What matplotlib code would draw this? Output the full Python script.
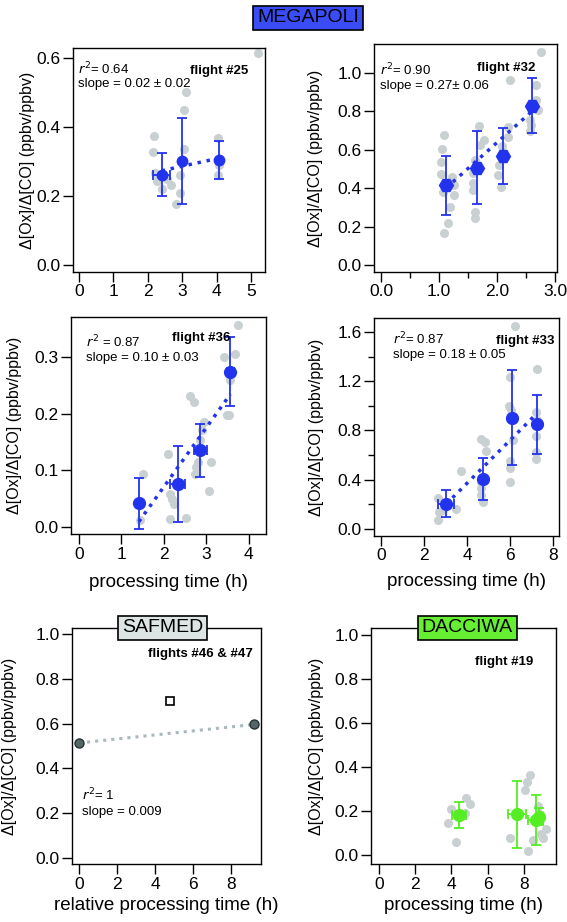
import matplotlib
matplotlib.use("Agg")
import matplotlib.pyplot as plt
from matplotlib.ticker import MultipleLocator

plt.rcParams['font.family'] = ['Liberation Sans', 'DejaVu Sans']

BLUE = '#2233ee'
GREEN = '#55ee22'
GREY = '#c9d0d1'

# flight #25
f25_gx = [2.18, 2.16, 2.21, 2.26, 2.42, 2.67, 2.82, 2.94, 2.94, 3.05, 3.11, 3.05, 4.05, 4.05, 4.07, 5.19, 2.55]
f25_gy = [0.373, 0.326, 0.267, 0.243, 0.219, 0.231, 0.178, 0.209, 0.26, 0.336, 0.502, 0.449, 0.367, 0.26, 0.29, 0.614, 0.25]
f25_x = [2.4, 3.0, 4.07]
f25_y = [0.262, 0.302, 0.305]
f25_yerr = [0.062, 0.124, 0.055]
f25_xerr = [0.25, 0.0, 0.0]
f25_fit = (0.022, 0.22)

# flight #32
f32_gx = [1.09, 1.05, 1.03, 1.03, 1.07, 1.22, 1.25, 1.26, 1.19, 1.15, 1.09, 1.69, 1.78, 1.62, 1.59, 1.59,
          1.58, 1.61, 1.62, 1.71, 2.02, 2.06, 2.04, 2.08, 2.18, 2.19, 2.22, 2.56, 2.58, 2.66, 2.70, 2.67, 2.76, 2.56]
f32_gy = [0.678, 0.603, 0.534, 0.473, 0.381, 0.459, 0.416, 0.364, 0.30, 0.22, 0.168, 0.724, 0.653, 0.546, 0.477, 0.425,
          0.393, 0.274, 0.243, 0.627, 0.468, 0.407, 0.52, 0.62, 0.667, 0.719, 0.962, 0.697, 0.731, 0.858, 0.809, 0.936, 1.109, 0.757]
f32_x = [1.12, 1.66, 2.10, 2.60]
f32_y = [0.414, 0.506, 0.567, 0.83]
f32_yerr = [0.155, 0.19, 0.147, 0.144]
f32_fit = (0.27, 0.098)

# flight #36
f36_gx = [1.51, 1.43, 2.11, 2.15, 2.19, 2.23, 2.15, 2.52, 2.61, 2.70, 2.75, 2.80, 2.74, 2.86, 2.95, 3.12, 3.06,
          3.43, 3.49, 3.53, 3.57, 3.69, 3.75, 2.90]
f36_gy = [0.0945, 0.012, 0.129, 0.059, 0.05, 0.04, 0.015, 0.016, 0.231, 0.221, 0.106, 0.115, 0.093, 0.153, 0.186, 0.115, 0.064,
          0.30, 0.197, 0.197, 0.259, 0.305, 0.356, 0.171]
f36_x = [1.41, 2.33, 2.86, 3.57]
f36_y = [0.042, 0.076, 0.135, 0.274]
f36_yerr = [0.045, 0.067, 0.046, 0.06]
f36_xerr = [0.0, 0.18, 0.15, 0.08]
f36_fit = (0.104, -0.137)

# flight #33
f33_gx = [2.66, 2.66, 2.71, 2.89, 3.48, 3.70, 4.67, 4.83, 4.86, 4.66, 4.67, 4.72, 4.67, 6.02, 5.96, 6.04, 6.15,
          5.99, 5.99, 5.99, 6.24, 7.26, 7.23, 7.26, 7.23, 7.23, 7.23]
f33_gy = [0.071, 0.247, 0.139, 0.152, 0.158, 0.473, 0.728, 0.709, 0.633, 0.329, 0.274, 0.22, 0.383, 1.233, 1.0, 0.967, 0.723,
          0.551, 0.492, 0.383, 1.654, 1.301, 0.953, 0.886, 0.755, 0.628, 0.565]
f33_x = [3.02, 4.75, 6.11, 7.26]
f33_y = [0.204, 0.402, 0.905, 0.85]
f33_yerr = [0.107, 0.17, 0.39, 0.243]
f33_xerr = [0.39, 0.0, 0.0, 0.0]
f33_fit = (0.175, -0.33)

# SAFMED flights #46 & #47
saf_x = [0.0, 9.21]
saf_y = [0.514, 0.596]
saf_sq_x = [4.77]
saf_sq_y = [0.702]
saf_fit = (0.009, 0.513)

# DACCIWA flight #19
f19_gx = [3.82, 4.0, 4.28, 4.83, 5.02, 4.74, 7.26, 8.05, 8.33, 8.18, 8.24, 8.51, 8.79, 8.97, 9.25, 9.06, 8.88]
f19_gy = [0.144, 0.212, 0.061, 0.262, 0.232, 0.192, 0.079, 0.298, 0.364, 0.333, 0.02, 0.068, 0.224, 0.098, 0.121, 0.08, 0.189]
f19_x = [4.43, 7.63, 8.65, 8.85]
f19_y = [0.182, 0.185, 0.159, 0.175]
f19_yerr = [0.059, 0.151, 0.114, 0.04]
f19_xerr = [0.4, 0.5, 0.4, 0.0]

W, H = 567, 922
fig = plt.figure(figsize=(W / 100, H / 100), dpi=100)


def make_ax(l, r, t, b):
    ax = fig.add_axes([l / W, 1 - b / H, (r - l) / W, (b - t) / H])
    ax.px = (l, r, t, b)
    return ax


def px(ax, x, y):
    # figure pixel -> axes fraction
    l, r, t, b = ax.px
    return (x - l) / (r - l), (b - y) / (b - t)


def style(ax, xlim, ylim, xmaj, ymaj, ylab_x, xminor=None, yminor=None, xfmt=None, yfmt='%.1f'):
    ax.set_xlim(*xlim)
    ax.set_ylim(*ylim)
    ax.xaxis.set_major_locator(MultipleLocator(xmaj))
    ax.yaxis.set_major_locator(MultipleLocator(ymaj))
    if xminor:
        ax.xaxis.set_minor_locator(MultipleLocator(xminor))
    if yminor:
        ax.yaxis.set_minor_locator(MultipleLocator(yminor))
    if xfmt:
        ax.xaxis.set_major_formatter(plt.FormatStrFormatter(xfmt))
    ax.yaxis.set_major_formatter(plt.FormatStrFormatter(yfmt))
    ax.tick_params(direction='out', length=7, width=1, labelsize=12.5, pad=2)
    ax.tick_params(which='minor', direction='out', length=4, width=1)
    for s in ax.spines.values():
        s.set_linewidth(1)
    ax.set_ylabel('Δ[Ox]/Δ[CO] (ppbv/ppbv)', fontsize=11.5)
    ax.yaxis.set_label_coords(px(ax, ylab_x, 0)[0], 0.5)
    ax.yaxis.label.set_va('center')


def xlab(ax, text, y):
    ax.set_xlabel(text, fontsize=13.5)
    ax.xaxis.set_label_coords(0.5, px(ax, 0, y)[1])
    ax.xaxis.label.set_va('center')


def grey(ax, gx, gy):
    ax.plot(gx, gy, 'o', color=GREY, ms=6.5, mec='none', zorder=1)


def fitline(ax, x, fit, color=BLUE, lw=2.5):
    a, b = fit
    xs = [min(x), max(x)]
    ax.plot(xs, [a * v + b for v in xs], ':', color=color, lw=lw, zorder=2)


def means(ax, x, y, yerr, xerr=None, marker='o', ms=7.5, color=BLUE):
    ax.errorbar(x, y, yerr=yerr, xerr=xerr, fmt=marker, color=color, ms=ms, mec=color,
                elinewidth=1.3, capsize=3.5, capthick=1.3, zorder=3)


def note(ax, text, x, y, bold=False, ha='left'):
    # x, y in figure pixels, text vertically centred there
    ax.text(*px(ax, x, y), text, transform=ax.transAxes, fontsize=9.5, ha=ha, va='center',
            fontweight='bold' if bold else 'normal')


# panel 1: flight #25
ax1 = make_ax(73, 265, 48, 272)
style(ax1, (-0.17, 5.4), (-0.02, 0.628), 1, 0.2, 28, xfmt='%d')
grey(ax1, f25_gx, f25_gy)
fitline(ax1, f25_x, f25_fit)
means(ax1, f25_x, f25_y, f25_yerr, f25_xerr)
note(ax1, '$r^2$= 0.64', 78, 69)
note(ax1, 'slope = 0.02 ± 0.02', 78, 84)
note(ax1, 'flight #25', 248, 71, bold=True, ha='right')

# panel 2: flight #32
ax2 = make_ax(374, 557, 44, 272)
style(ax2, (-0.12, 3.03), (-0.036, 1.15), 1, 0.2, 315, xminor=0.5, xfmt='%.1f')
grey(ax2, f32_gx, f32_gy)
fitline(ax2, f32_x, f32_fit)
means(ax2, f32_x, f32_y, f32_yerr, marker='H', ms=10)
note(ax2, '$r^2$= 0.90', 380, 70)
note(ax2, 'slope = 0.27± 0.06', 380, 86)
note(ax2, 'flight #32', 535, 68, bold=True, ha='right')

# panel 3: flight #36
ax3 = make_ax(71, 266, 317, 534)
style(ax3, (-0.19, 4.41), (-0.012, 0.37), 1, 0.1, 15, xfmt='%d')
grey(ax3, f36_gx, f36_gy)
fitline(ax3, f36_x, f36_fit)
means(ax3, f36_x, f36_y, f36_yerr, f36_xerr, ms=8.5)
note(ax3, '$r^2$ = 0.87', 86, 342)
note(ax3, 'slope = 0.10 ± 0.03', 86, 358)
note(ax3, 'flight #36', 230, 338, bold=True, ha='right')
xlab(ax3, 'processing time (h)', 582)

# panel 4: flight #33
ax4 = make_ax(374, 559, 318, 536)
style(ax4, (-0.33, 8.28), (-0.06, 1.717), 2, 0.4, 316, yminor=0.2, xfmt='%d')
grey(ax4, f33_gx, f33_gy)
fitline(ax4, f33_x, f33_fit)
means(ax4, f33_x, f33_y, f33_yerr, f33_xerr, ms=8.5)
note(ax4, '$r^2$= 0.87', 393, 339)
note(ax4, 'slope = 0.18 ± 0.05', 393, 355)
note(ax4, 'flight #33', 554, 341, bold=True, ha='right')
xlab(ax4, 'processing time (h)', 582)

# panel 5: SAFMED
ax5 = make_ax(72, 261, 628, 864)
style(ax5, (-0.37, 9.58), (-0.028, 1.027), 2, 0.2, 10, xfmt='%d')
fitline(ax5, saf_x, saf_fit, color='#a9b8bc', lw=2.2)
ax5.plot(saf_x, saf_y, 'o', color='#556666', mec='#223333', ms=6.5, zorder=3)
ax5.plot(saf_sq_x, saf_sq_y, 's', mfc='white', mec='black', ms=6, mew=1.2, zorder=3)
note(ax5, 'flights #46 & #47', 253, 654, bold=True, ha='right')
note(ax5, '$r^2$= 1', 82, 795)
note(ax5, 'slope = 0.009', 82, 812)
xlab(ax5, 'relative processing time (h)', 905)
ax5.text(0.48, 1.0, 'SAFMED', transform=ax5.transAxes, fontsize=14, ha='center', va='center',
         bbox=dict(boxstyle='square,pad=0.2', fc='#dde4e4', ec='black', lw=1.2))

# panel 6: DACCIWA
ax6 = make_ax(371, 556, 628, 864)
style(ax6, (-0.44, 9.78), (-0.04, 1.032), 2, 0.2, 316, xfmt='%d')
grey(ax6, f19_gx, f19_gy)
means(ax6, f19_x, f19_y, f19_yerr, f19_xerr, ms=8.5, color=GREEN)
note(ax6, 'flight #19', 533, 662, bold=True, ha='right')
xlab(ax6, 'processing time (h)', 905)
ax6.text(0.52, 1.0, 'DACCIWA', transform=ax6.transAxes, fontsize=14, ha='center', va='center',
         bbox=dict(boxstyle='square,pad=0.2', fc='#66ee33', ec='black', lw=1.2))

fig.text(308 / W, 1 - 18 / H, 'MEGAPOLI', fontsize=14, ha='center', va='center',
         bbox=dict(boxstyle='square,pad=0.2', fc='#3a4cf5', ec='black', lw=1.2))

fig.savefig('out.png', dpi=100)
